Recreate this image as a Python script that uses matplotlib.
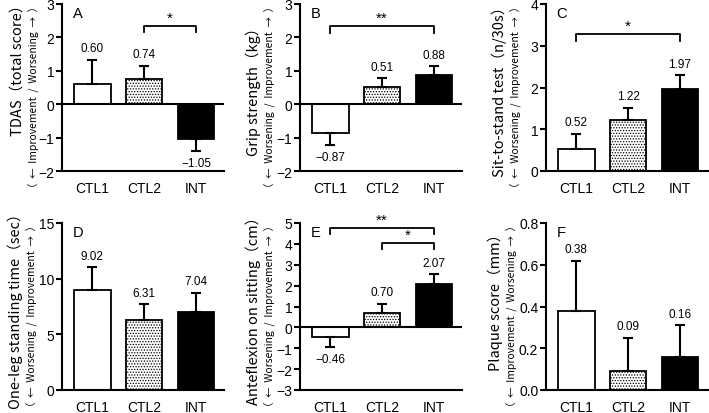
import numpy as np
import matplotlib
matplotlib.use('Agg')
import matplotlib.pyplot as plt

plt.rcParams['font.family'] = ['Liberation Sans', 'DejaVu Sans']
plt.rcParams['hatch.linewidth'] = 0.6
plt.rcParams['hatch.color'] = '#555555'

groups = ['CTL1', 'CTL2', 'INT']

tdas_mean = [0.60, 0.74, -1.05]
tdas_err = [0.73, 0.41, 0.36]
grip_mean = [-0.87, 0.51, 0.88]
grip_err = [0.36, 0.26, 0.26]
sts_mean = [0.52, 1.22, 1.97]
sts_err = [0.37, 0.30, 0.32]
oleg_mean = [9.02, 6.31, 7.04]
oleg_err = [2.02, 1.37, 1.68]
ante_mean = [-0.46, 0.70, 2.07]
ante_err = [0.49, 0.42, 0.47]
plaque_mean = [0.38, 0.09, 0.16]
plaque_err = [0.24, 0.16, 0.15]

# panel settings: letter, means, errors, ylim, ticks, label, sub-label, brackets
panels = [
    ('A', tdas_mean, tdas_err, (-2, 3), np.arange(-2, 4, 1), 'TDAS（total score）',
     '（  ←  Improvement  /  Worsening  →  ）', [(1, 2, 2.35, 0.2, '*')], 0.63),
    ('B', grip_mean, grip_err, (-2, 3), np.arange(-2, 4, 1), 'Grip strength（kg）',
     '（  ←  Worsening  /  Improvement  →  ）', [(0, 2, 2.35, 0.22, '**')], 0.5),
    ('C', sts_mean, sts_err, (0, 4), np.arange(0, 5, 1), 'Sit-to-stand test（n/30s）',
     '（  ←  Worsening  /  Improvement  →  ）', [(0, 2, 3.28, 0.17, '*')], 0.5),
    ('D', oleg_mean, oleg_err, (0, 15), np.arange(0, 16, 5), 'One-leg standing time（sec）',
     '（  ←  Worsening  /  Improvement  →  ）', [], 0.5),
    ('E', ante_mean, ante_err, (-3, 5), np.arange(-3, 6, 1), 'Anteflexion on sitting（cm）',
     '（  ←  Worsening  /  Improvement  →  ）', [(0, 2, 4.76, 0.3, '**'), (1, 2, 4.05, 0.3, '*')], 0.5),
    ('F', plaque_mean, plaque_err, (0, 0.8), np.arange(0, 0.81, 0.2), 'Plaque score（mm）',
     '（  ←  Improvement  /  Worsening  →  ）', [], 0.55),
]

W, H = 709, 414
fig = plt.figure(figsize=(W / 100, H / 100), dpi=100)
lefts = [62, 300, 546]
tops = [5, 224]
ax_w, ax_h = 162, 167

lab_font = ['Noto Sans CJK JP', 'DejaVu Sans']
lw = 1.5

for i, (letter, mean, err, ylim, ticks, ylabel, sublabel, brackets, lab_y) in enumerate(panels):
    col = i % 3
    row = i // 3
    ax = fig.add_axes([lefts[col] / W, (H - tops[row] - ax_h) / H, ax_w / W, ax_h / H])
    x = np.arange(len(groups))
    mean = np.array(mean)
    err = np.array(err)
    lower = np.where(mean < 0, err, 0)
    upper = np.where(mean >= 0, err, 0)
    ax.bar(x, mean, width=0.71, color=['white', 'white', 'black'],
           edgecolor='black', linewidth=1.3, hatch=['', '......', ''], zorder=2)
    ax.errorbar(x, mean, yerr=[lower, upper], fmt='none', ecolor='black',
                elinewidth=1.5, capsize=3.5, capthick=1.5, zorder=3)

    span = ylim[1] - ylim[0]
    for xi, m, e in zip(x, mean, err):
        txt = '%.2f' % m
        txt = txt.replace('-', '−')
        if m >= 0:
            ax.annotate(txt, (xi, m + e), xytext=(0, 4), textcoords='offset points',
                        ha='center', va='bottom', fontsize=8.5)
        else:
            ax.annotate(txt, (xi, m - e), xytext=(0, -4), textcoords='offset points',
                        ha='center', va='top', fontsize=8.5)

    for x0, x1, yb, drop, star in brackets:
        ax.plot([x0, x0, x1, x1], [yb - drop, yb, yb, yb - drop], color='black',
                lw=1.3, clip_on=False)
        ax.text((x0 + x1) / 2, yb + span * 0.005, star, ha='center', va='bottom',
                fontsize=11)

    if ylim[0] < 0:
        ax.axhline(0, color='black', lw=lw, zorder=4)

    ax.set_xlim(-0.58, 2.54)
    ax.set_ylim(ylim)
    ax.set_yticks(ticks)
    if letter == 'F':
        ax.set_yticklabels(['%.1f' % t for t in ticks])
    ax.set_xticks(x)
    ax.set_xticklabels(groups)
    ax.tick_params(axis='x', length=0, pad=7, labelsize=10)
    ax.tick_params(axis='y', length=4, width=lw, labelsize=10, pad=1.5)
    for s in ['top', 'right']:
        ax.spines[s].set_visible(False)
    for s in ['left', 'bottom']:
        ax.spines[s].set_linewidth(lw)

    ax.text(0.065, 0.99, letter, transform=ax.transAxes, ha='left', va='top', fontsize=10.5)

    off = {'A': 1.5, 'F': -3}.get(letter, 0)
    ax.annotate(ylabel, (0, lab_y), xycoords='axes fraction', xytext=(-33.5 + off, 0),
                textcoords='offset points', rotation=90, ha='center', va='center',
                fontsize=10.5, family=lab_font)
    ax.annotate(sublabel, (0, 0.45), xycoords='axes fraction', xytext=(-21.5 + off, 0),
                textcoords='offset points', rotation=90, ha='center', va='center',
                fontsize=7.5, family=lab_font)

fig.savefig('out.png', dpi=100)
